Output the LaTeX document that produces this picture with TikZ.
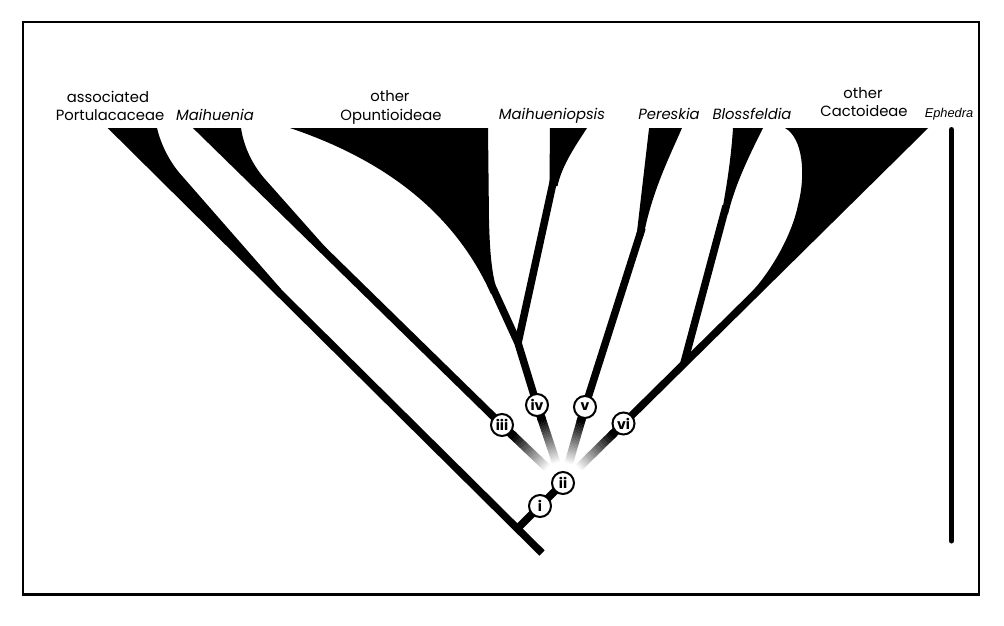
\documentclass[tikz,border=0pt]{standalone}
\usepackage{fontspec}
\setmainfont{Poppins}
\newfontfamily\arialfont{Liberation Sans}
\usetikzlibrary{calc}
\pgfdeclarelayer{bg}
\pgfsetlayers{bg,main}
\begin{document}
\begin{tikzpicture}[x=1pt,y=-1pt,
  branch/.style={line width=7.5pt, line cap=butt, line join=round},
  gline/.style={line width=8.5pt, line cap=butt},
  wedge/.style={fill=black},
  circ/.style={circle, draw=black, line width=2pt, fill=white, minimum size=22pt, inner sep=0pt, font=\fontsize{14}{14}\selectfont\bfseries},
  lab/.style={anchor=base, inner sep=0pt, font=\fontsize{14.8}{14.8}\selectfont},
  ilab/.style={lab, font=\fontsize{14.8}{14.8}\selectfont\itshape},
]
\useasboundingbox (0,0) rectangle (1004,625);
\draw[line width=2.5pt] (23,22) rectangle (979,594.5);

% labels
\node[lab] (l1a) at (108,102) {associated};
\node[lab] (l1b) at (110,120) {Portulacaceae};
\node[ilab] (l2) at (215,120) {Maihuenia};
\node[lab] (l3a) at (390,101) {other};
\node[lab] (l3b) at (391,120) {Opuntioideae};
\node[ilab] (l4) at (552,119) {Maihueniopsis};
\node[ilab] (l5) at (669,119) {Pereskia};
\node[ilab] (l6) at (752,119) {Blossfeldia};
\node[lab] (l7a) at (863,98) {other};
\node[lab] (l7b) at (864,116.5) {Cactoideae};
\node[anchor=base, inner sep=0pt, font=\arialfont\fontsize{12.8}{12.8}\selectfont\itshape] (l8) at (949,117) {Ephedra};

% Ephedra bar
\coordinate (eT) at (951.5,129.5);
\coordinate (eB) at (951.5,541);
\draw[line width=5pt, line cap=round] (eT) -- (eB);

% circles
\node[circ] (ni) at (540,506) {i};
\node[circ] (nii) at (563,483) {ii};
\node[circ] (n3) at (502,425) {iii};
\node[circ] (n4) at (537,405) {iv};
\node[circ] (n5) at (585,407) {v};
\node[circ] (n6) at (623.5,423.5) {vi};

% key points
\coordinate (R) at (542,553);
\coordinate (PT) at (104.9,120);
\coordinate (Jt) at (517.3,528.7);
\coordinate (MT) at (190.1,120);
\coordinate (J4) at (518,343);
\coordinate (O) at (491,284);
\coordinate (MpT) at (554.5,176);
\coordinate (PkT) at (642,228);
\coordinate (CT) at (931,120);
\coordinate (J6) at (684,363);
\coordinate (BT) at (726,206);

\begin{pgfonlayer}{bg}
\begin{scope}
\clip (0,128) rectangle (1004,625);
% wedges
\fill[wedge] (104.9,120) -- (157,120) -- (157,128) .. controls (161,145) and (170,163) .. (183,177)
  -- (281,289) -- (275.4,289) -- cycle;
\fill[wedge] (190.1,120) -- (241,120) -- (241,128) .. controls (244,148) and (253,165) .. (264,178)
  -- (327,249) -- (322,249) -- cycle;
\fill[wedge] (290,120) -- (488,120) -- (488,128) -- (489,220) .. controls (490,262) and (493,278) .. (498,294)
  -- (491,294) .. controls (460,225) and (400,165) .. (290,128) -- cycle;
\fill[wedge] (550,120) -- (587,120) -- (587,128) .. controls (576,145) and (562,165) .. (557.5,186)
  -- (549.5,186) -- cycle;
\fill[wedge] (636.5,236) -- (650,120) -- (683,120) -- (682,128) .. controls (668,160) and (652,192) .. (643.5,236) -- cycle;
\fill[wedge] (721.5,214) .. controls (726,190) and (731,160) .. (733,128) -- (733,120) -- (763,120) -- (763,128)
  .. controls (748,158) and (735,185) .. (728,214) -- cycle;
\fill[wedge] (785,120) -- (785,128) .. controls (803,138) and (806,175) .. (798,205)
  .. controls (792,235) and (770,275) .. (744,300) -- (748,300) -- (931,120) -- cycle;
% branches
\draw[branch] (R) -- (PT);
\draw[branch] (Jt) -- (ni.center) -- (nii.center);
\draw[branch] (n3.center) -- (MT);
\draw[branch] (n4.center) -- (J4) -- (O);
\draw[branch] (J4) -- (MpT);
\draw[branch] (n5.center) -- (PkT);
\draw[branch] (n6.center) -- (CT);
\draw[branch] (J6) -- (BT);
\end{scope}
% fading connectors
\foreach \t in {n3,n4,n5,n6}{
  \foreach \k in {0,...,29}{
    \pgfmathsetmacro\a{0.24+\k*0.02}
    \pgfmathsetmacro\b{\a+0.022}
    \pgfmathsetmacro\p{min(100,\k*3.6)}
    \draw[gline, draw=black!\p] ($(nii.center)!\a!(\t.center)$) -- ($(nii.center)!\b!(\t.center)$);
  }
  \draw[gline] ($(nii.center)!0.8!(\t.center)$) -- (\t.center);
}
\end{pgfonlayer}
\end{tikzpicture}
\end{document}
